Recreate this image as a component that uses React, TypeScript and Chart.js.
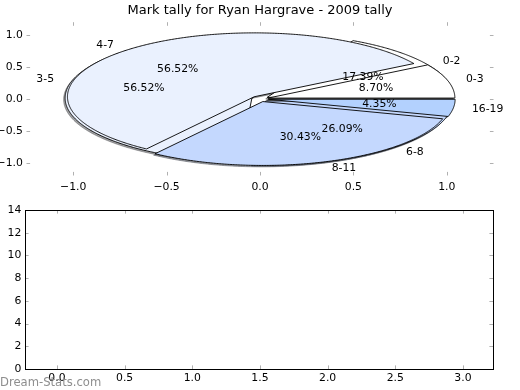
import React, { useEffect, useRef } from 'react';
import { Chart, registerables } from 'chart.js';

Chart.register(...registerables);

// ---- data ----
const TITLE = 'Mark tally for Ryan Hargrave - 2009 tally';
const WATERMARK = 'Dream-Stats.com';
const pieBLabels = ['0-2', '3-5', '6-8'];
const pieBValues = [4, 13, 6];
const pieALabels = ['0-3', '4-7', '8-11', '16-19'];
const pieAValues = [2, 13, 7, 1];
const explodeB = [0.045, 0.045, 0.045];
const explodeA = [0.045, 0.045, 0.045, 0.045];
const wedgeColors = ['#ffffff', '#eaf1fe', '#c4d8fe', '#b3d1fe'];
const pieTicks = [-1, -0.5, 0, 0.5, 1];
const lowerXTicks = [0, 0.5, 1, 1.5, 2, 2.5, 3];
const lowerYTicks = [0, 2, 4, 6, 8, 10, 12, 14];

const FONT = '"DejaVu Sans", "Liberation Sans", sans-serif';
const fmt1 = (v: number) => (v < 0 ? '\u2212' + Math.abs(v).toFixed(1) : v.toFixed(1));

function darken(hex: string, f: number, a: number) {
  const n = parseInt(hex.slice(1), 16);
  const r = Math.round(((n >> 16) & 255) * f);
  const g = Math.round(((n >> 8) & 255) * f);
  const b = Math.round((n & 255) * f);
  return `rgba(${r},${g},${b},${a})`;
}

const axesDeco = (frame: boolean) => ({
  id: 'axesDeco',
  afterDraw(chart: any) {
    const { ctx, chartArea: a, scales } = chart;
    const x = scales.x;
    const y = scales.y;
    ctx.save();
    ctx.strokeStyle = '#b0b0b0';
    ctx.lineWidth = 1;
    ctx.beginPath();
    const L = 3.6;
    x.ticks.forEach((t: any) => {
      const p = Math.round(x.getPixelForValue(t.value)) + 0.5;
      ctx.moveTo(p, a.top);
      ctx.lineTo(p, a.top + L);
      ctx.moveTo(p, a.bottom);
      ctx.lineTo(p, a.bottom - L);
    });
    y.ticks.forEach((t: any) => {
      const p = Math.round(y.getPixelForValue(t.value)) + 0.5;
      ctx.moveTo(a.left, p);
      ctx.lineTo(a.left + L, p);
      ctx.moveTo(a.right, p);
      ctx.lineTo(a.right - L, p);
    });
    ctx.stroke();
    if (frame) {
      ctx.strokeStyle = '#000';
      ctx.lineWidth = 1;
      ctx.strokeRect(Math.round(a.left) + 0.5, Math.round(a.top) + 0.5, Math.round(a.right - a.left), Math.round(a.bottom - a.top));
    }
    ctx.restore();
  },
});

const piePlugin = {
  id: 'ellipsePies',
  afterDatasetsDraw(chart: any) {
    const { ctx, scales } = chart;
    const xs = scales.x;
    const ys = scales.y;
    const px = (v: number) => xs.getPixelForValue(v);
    const py = (v: number) => ys.getPixelForValue(v);
    const pies = [
      { labels: pieBLabels, values: pieBValues, explode: explodeB },
      { labels: pieALabels, values: pieAValues, explode: explodeA },
    ];
    const wedges = pies.map((p) => {
      const total = p.values.reduce((s, v) => s + v, 0);
      let acc = 0;
      return p.values.map((v, i) => {
        const a1 = (acc / total) * Math.PI * 2;
        acc += v;
        const a2 = (acc / total) * Math.PI * 2;
        const m = (a1 + a2) / 2;
        const ex = p.explode[i];
        return {
          a1, a2, m,
          cx: ex * Math.cos(m),
          cy: ex * Math.sin(m),
          color: wedgeColors[i % wedgeColors.length],
          label: p.labels[i],
          pct: (100 * v) / total,
        };
      });
    });
    const path = (w: any, dx: number, dy: number) => {
      ctx.beginPath();
      ctx.moveTo(px(w.cx + dx), py(w.cy + dy));
      const n = Math.max(8, Math.ceil((w.a2 - w.a1) / (Math.PI / 360)));
      for (let k = 0; k <= n; k++) {
        const t = w.a1 + ((w.a2 - w.a1) * k) / n;
        ctx.lineTo(px(w.cx + dx + Math.cos(t)), py(w.cy + dy + Math.sin(t)));
      }
      ctx.closePath();
    };
    ctx.save();
    ctx.lineJoin = 'round';
    // shadows first (lower z-order)
    wedges.forEach((ws) =>
      ws.forEach((w) => {
        path(w, -0.008, -0.022);
        ctx.fillStyle = darken(w.color, 0.3, 0.5);
        ctx.fill();
        ctx.strokeStyle = darken(w.color, 0.3, 0.5);
        ctx.lineWidth = 0.9;
        ctx.stroke();
      })
    );
    wedges.forEach((ws) =>
      ws.forEach((w) => {
        path(w, 0, 0);
        ctx.fillStyle = w.color;
        ctx.fill();
        ctx.strokeStyle = '#000';
        ctx.lineWidth = 0.9;
        ctx.stroke();
      })
    );
    ctx.fillStyle = '#000';
    ctx.font = `10.83px ${FONT}`;
    ctx.textBaseline = 'middle';
    wedges.forEach((ws) =>
      ws.forEach((w) => {
        const xt = w.cx + 1.1 * Math.cos(w.m);
        const yt = w.cy + 1.1 * Math.sin(w.m);
        ctx.textAlign = xt > 0 ? 'left' : 'right';
        ctx.fillText(w.label, px(xt), py(yt));
        const xp = w.cx + 0.6 * Math.cos(w.m);
        const yp = w.cy + 0.6 * Math.sin(w.m);
        ctx.textAlign = 'center';
        ctx.fillText(w.pct.toFixed(2) + '%', px(xp), py(yp));
      })
    );
    ctx.restore();
  },
};

const titlePlugin = {
  id: 'figTitle',
  afterDraw(chart: any) {
    const { ctx, chartArea: a } = chart;
    ctx.save();
    ctx.font = `13px ${FONT}`;
    ctx.fillStyle = '#000';
    ctx.textAlign = 'center';
    ctx.textBaseline = 'alphabetic';
    ctx.fillText(TITLE, (a.left + a.right) / 2, 14);
    ctx.restore();
  },
};

const watermarkPlugin = {
  id: 'watermark',
  afterDraw(chart: any) {
    const { ctx } = chart;
    ctx.save();
    ctx.font = `11.6px ${FONT}`;
    ctx.fillStyle = '#8e8e8e';
    ctx.textAlign = 'left';
    ctx.textBaseline = 'alphabetic';
    ctx.fillText(WATERMARK, 0, 385.5);
    ctx.restore();
  },
};

const tickFont = { family: FONT, size: 10.83 };

export default function App() {
  const topRef = useRef<HTMLCanvasElement>(null);
  const botRef = useRef<HTMLCanvasElement>(null);

  useEffect(() => {
    const top = new Chart(topRef.current as HTMLCanvasElement, {
      type: 'scatter',
      data: { datasets: [{ data: [] }] },
      options: {
        responsive: false,
        animation: false,
        events: [],
        layout: { padding: { left: 0, right: 26.5, top: 22.2, bottom: 194.5 } },
        plugins: { legend: { display: false }, tooltip: { enabled: false } },
        scales: {
          x: {
            type: 'linear',
            min: -1.25,
            max: 1.25,
            offset: false,
            afterBuildTicks: (s: any) => { s.ticks = pieTicks.map((v) => ({ value: v })); },
            afterFit: (s: any) => { s.height = 20; },
            grid: { display: false, drawTicks: false },
            border: { display: false },
            ticks: { padding: 5, color: '#000', font: tickFont, maxRotation: 0, autoSkip: false, callback: (v: any) => fmt1(Number(v)) },
          },
          y: {
            type: 'linear',
            min: -1.2,
            max: 1.2,
            afterBuildTicks: (s: any) => { s.ticks = pieTicks.map((v) => ({ value: v })); },
            afterFit: (s: any) => { s.width = 26.5; },
            grid: { display: false, drawTicks: false },
            border: { display: false },
            ticks: { padding: 3.6, color: '#000', font: tickFont, autoSkip: false, callback: (v: any) => fmt1(Number(v)) },
          },
        },
      },
      plugins: [piePlugin, axesDeco(false), titlePlugin],
    } as any);

    const bot = new Chart(botRef.current as HTMLCanvasElement, {
      type: 'scatter',
      data: { datasets: [{ data: [] }] },
      options: {
        responsive: false,
        animation: false,
        events: [],
        layout: { padding: { left: 0, right: 27, top: 210, bottom: 0 } },
        plugins: { legend: { display: false }, tooltip: { enabled: false } },
        scales: {
          x: {
            type: 'linear',
            min: -0.236,
            max: 3.222,
            offset: false,
            afterBuildTicks: (s: any) => { s.ticks = lowerXTicks.map((v) => ({ value: v })); },
            afterFit: (s: any) => { s.height = 21; },
            grid: { display: false, drawTicks: false },
            border: { display: false },
            ticks: { padding: 3, color: '#000', font: tickFont, maxRotation: 0, autoSkip: false, callback: (v: any) => fmt1(Number(v)) },
          },
          y: {
            type: 'linear',
            min: 0,
            max: 14,
            afterBuildTicks: (s: any) => { s.ticks = lowerYTicks.map((v) => ({ value: v })); },
            afterFit: (s: any) => { s.width = 25; },
            grid: { display: false, drawTicks: false },
            border: { display: false },
            ticks: { padding: 3.6, color: '#000', font: tickFont, autoSkip: false, callback: (v: any) => String(v) },
          },
        },
      },
      plugins: [axesDeco(true), watermarkPlugin],
    } as any);

    return () => {
      top.destroy();
      bot.destroy();
    };
  }, []);

  const cs: React.CSSProperties = { position: 'absolute', left: 0, top: 0, width: 520, height: 390 };
  return (
    <div style={{ position: 'absolute', left: 0, top: 0, width: 520, height: 390, background: '#fff' }}>
      <canvas ref={topRef} width={520} height={390} style={cs} />
      <canvas ref={botRef} width={520} height={390} style={cs} />
    </div>
  );
}
